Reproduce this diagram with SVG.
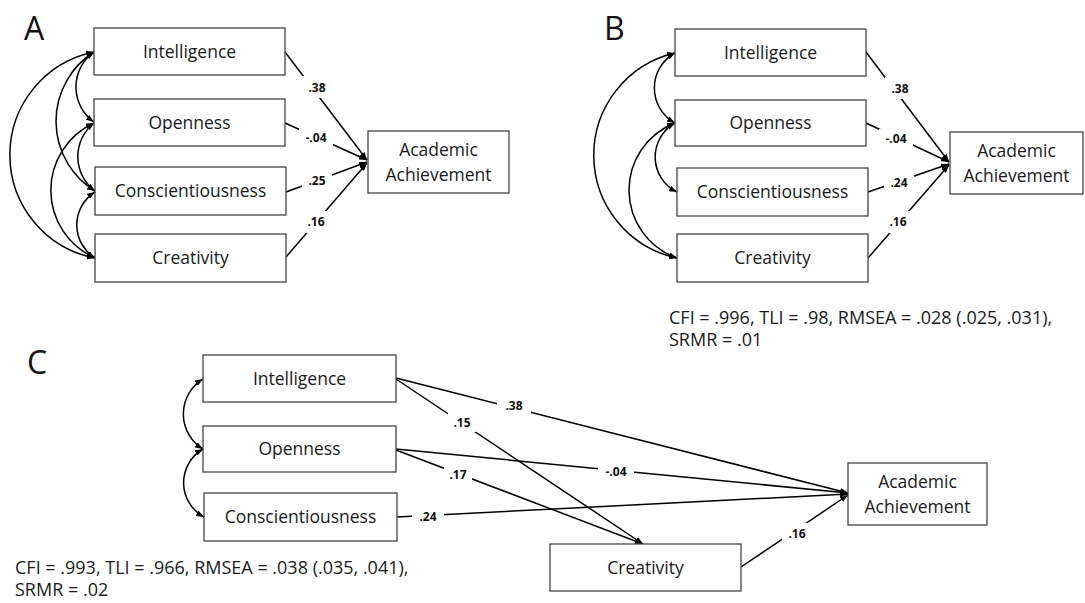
<svg xmlns="http://www.w3.org/2000/svg" width="1085" height="603" viewBox="0 0 1085 603">
<defs>
<marker id="ah" viewBox="0 0 8 6" refX="8" refY="3" markerWidth="8" markerHeight="6" markerUnits="userSpaceOnUse" orient="auto-start-reverse">
<path d="M0,0 L8,3 L0,6 z" fill="#000"/>
</marker>
<style>
.box{fill:#fff;stroke:#444;stroke-width:1.3}
.lbl{font-family:"Open Sans","Noto Sans",sans-serif;font-size:17.5px;fill:#1a1a1a;text-anchor:middle}
.panel{font-family:"Open Sans","Noto Sans",sans-serif;font-size:32px;fill:#111}
.fit{font-family:"Open Sans","Noto Sans",sans-serif;font-size:18px;fill:#1a1a1a}
.path{fill:none;stroke:#000;stroke-width:1.5;marker-end:url(#ah)}
.cov{fill:none;stroke:#000;stroke-width:1.5;marker-start:url(#ah);marker-end:url(#ah)}
.bg{fill:#fff}
.coef{font-family:"Open Sans","Noto Sans",sans-serif;font-size:12px;font-weight:bold;fill:#111;text-anchor:middle}
</style>
</defs>
<rect width="1085" height="603" fill="#fff"/>

<text class="panel" x="24" y="40">A</text>
<text class="panel" x="604" y="40">B</text>
<text class="panel" x="27" y="374">C</text>

<g id="connectors">
<path class="cov" d="M94,52 A43,43 0 0 0 94,122"/>
<path class="cov" d="M94,123 A43,43 0 0 0 95,191"/>
<path class="cov" d="M95,192 A39,39 0 0 0 95,258"/>
<path class="cov" d="M94,52 A82,82 0 0 0 95,191"/>
<path class="cov" d="M94,123 A74,74 0 0 0 95,258"/>
<path class="cov" d="M94,52 A105,105 0 0 0 95,258"/>
<path class="path" d="M285,52 L367,160"/>
<path class="path" d="M285,123 L367,160"/>
<path class="path" d="M286,192 L367,162"/>
<path class="path" d="M286,257 L367,163"/>
<path class="cov" d="M675,53 A40,40 0 0 0 675,123"/>
<path class="cov" d="M675,123 A39,39 0 0 0 677,192"/>
<path class="cov" d="M675,123 A72,72 0 0 0 677,258"/>
<path class="cov" d="M675,53 A105,105 0 0 0 677,258"/>
<path class="path" d="M866,52 L949,162"/>
<path class="path" d="M866,123 L949,162"/>
<path class="path" d="M868,192 L949,164"/>
<path class="path" d="M868,258 L949,165"/>
<path class="cov" d="M203,379 A41,41 0 0 0 203,449"/>
<path class="cov" d="M203,449 A39,39 0 0 0 204,517"/>
<path class="path" d="M396,378 L848,493"/>
<path class="path" d="M396,379 L643,544"/>
<path class="path" d="M396,449 L848,493"/>
<path class="path" d="M396,450 L643,544"/>
<path class="path" d="M397,517 L848,494"/>
<path class="path" d="M741,567 L848,495"/>
<rect class="bg" x="302" y="76" width="30" height="22"/><text class="coef" x="317" y="92">.38</text>
<rect class="bg" x="299" y="128" width="34" height="20"/><text class="coef" x="316" y="142">-.04</text>
<rect class="bg" x="302" y="172" width="30" height="18"/><text class="coef" x="317" y="185">.25</text>
<rect class="bg" x="301" y="211" width="30" height="22"/><text class="coef" x="316" y="226">.16</text>
<rect class="bg" x="885" y="77" width="30" height="22"/><text class="coef" x="900" y="93">.38</text>
<rect class="bg" x="879" y="129" width="34" height="20"/><text class="coef" x="896" y="143">-.04</text>
<rect class="bg" x="884" y="174" width="30" height="18"/><text class="coef" x="899" y="187">.24</text>
<rect class="bg" x="883" y="211" width="30" height="22"/><text class="coef" x="898" y="226">.16</text>
<rect class="bg" x="497" y="397" width="34" height="18"/><text class="coef" x="514" y="410">.38</text>
<rect class="bg" x="448" y="412" width="28" height="20"/><text class="coef" x="462" y="427">.15</text>
<rect class="bg" x="598" y="464" width="36" height="16"/><text class="coef" x="616" y="476">-.04</text>
<rect class="bg" x="444" y="464" width="28" height="20"/><text class="coef" x="458" y="479">.17</text>
<rect class="bg" x="412" y="510" width="32" height="16"/><text class="coef" x="428" y="521">.24</text>
<rect class="bg" x="782" y="523" width="30" height="21"/><text class="coef" x="797" y="538">.16</text>
</g>

<g id="A-intelligence"><rect class="box" x="94" y="28" width="191" height="47"/><text class="lbl" x="189.5" y="57.8">Intelligence</text></g>
<g id="A-openness"><rect class="box" x="94" y="99" width="191" height="47"/><text class="lbl" x="189.5" y="128.8">Openness</text></g>
<g id="A-conscientiousness"><rect class="box" x="95" y="167" width="191" height="48"/><text class="lbl" x="190.5" y="197.3">Conscientiousness</text></g>
<g id="A-creativity"><rect class="box" x="95" y="234" width="191" height="48"/><text class="lbl" x="190.5" y="264.3">Creativity</text></g>
<g id="A-achievement"><rect class="box" x="368" y="131" width="141" height="62"/><text class="lbl" x="438.5" y="155.5">Academic</text><text class="lbl" x="438.5" y="180.5">Achievement</text></g>

<g id="B-intelligence"><rect class="box" x="675" y="29" width="191" height="47"/><text class="lbl" x="770.5" y="58.8">Intelligence</text></g>
<g id="B-openness"><rect class="box" x="675" y="100" width="191" height="46"/><text class="lbl" x="770.5" y="129.3">Openness</text></g>
<g id="B-conscientiousness"><rect class="box" x="677" y="168" width="191" height="48"/><text class="lbl" x="772.5" y="198.3">Conscientiousness</text></g>
<g id="B-creativity"><rect class="box" x="677" y="234" width="191" height="48"/><text class="lbl" x="772.5" y="264.3">Creativity</text></g>
<g id="B-achievement"><rect class="box" x="950" y="132" width="133" height="62"/><text class="lbl" x="1016.5" y="156.5">Academic</text><text class="lbl" x="1016.5" y="181.5">Achievement</text></g>
<g id="B-fit"><text class="fit" x="669" y="324">CFI = .996, TLI = .98, RMSEA = .028 (.025, .031),</text><text class="fit" x="669" y="346">SRMR = .01</text></g>

<g id="C-intelligence"><rect class="box" x="203" y="355" width="193" height="47"/><text class="lbl" x="299.5" y="384.8">Intelligence</text></g>
<g id="C-openness"><rect class="box" x="203" y="426" width="193" height="46"/><text class="lbl" x="299.5" y="455.3">Openness</text></g>
<g id="C-conscientiousness"><rect class="box" x="204" y="493" width="193" height="48"/><text class="lbl" x="300.5" y="523.3">Conscientiousness</text></g>
<g id="C-creativity"><rect class="box" x="550" y="544" width="191" height="47"/><text class="lbl" x="645.5" y="573.8">Creativity</text></g>
<g id="C-achievement"><rect class="box" x="848" y="463" width="139" height="62"/><text class="lbl" x="917.5" y="487.5">Academic</text><text class="lbl" x="917.5" y="512.5">Achievement</text></g>
<g id="C-fit"><text class="fit" x="15" y="574">CFI = .993, TLI = .966, RMSEA = .038 (.035, .041),</text><text class="fit" x="15" y="596">SRMR = .02</text></g>
</svg>
